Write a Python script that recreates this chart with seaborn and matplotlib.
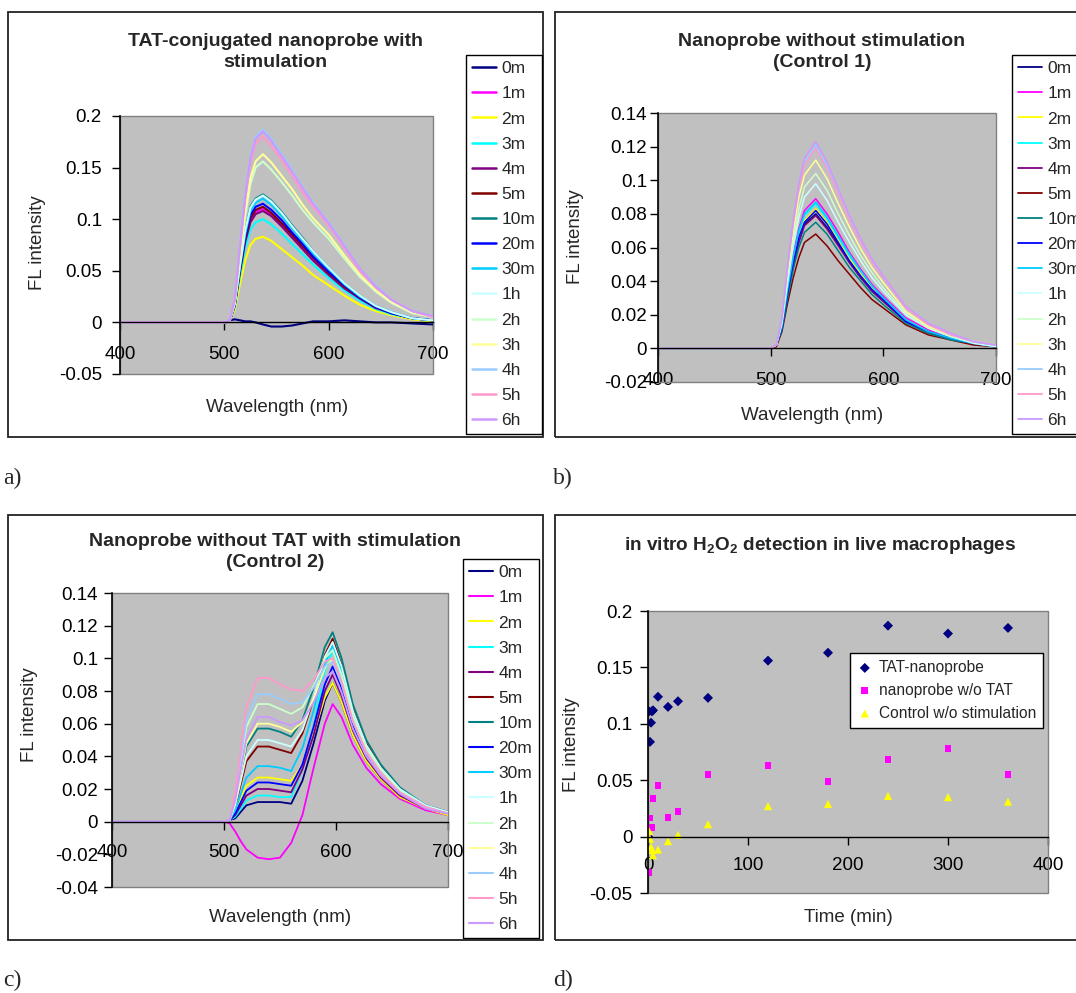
import matplotlib
matplotlib.use("Agg")
import numpy as np
import pandas as pd
import matplotlib.pyplot as plt
import seaborn as sns
from matplotlib.lines import Line2D
from matplotlib.patches import Rectangle

# ---------------- data ----------------
SERIES = ["0m", "1m", "2m", "3m", "4m", "5m", "10m", "20m", "30m",
          "1h", "2h", "3h", "4h", "5h", "6h"]
COLORS = ["#000080", "#FF00FF", "#FFFF00", "#00FFFF", "#800080", "#800000",
          "#008080", "#0000FF", "#00CCFF", "#CCFFFF", "#CCFFCC", "#FFFF99",
          "#99CCFF", "#FF99CC", "#CC99FF"]

# Panel a: TAT-conjugated nanoprobe with stimulation
WL_A = [400, 500, 505, 510, 515, 520, 525, 530, 537, 545, 555, 565, 575, 585, 600, 615, 630, 645, 660, 680, 700]
A_0M = [0, 0, 0.002, 0.003, 0.002, 0.001, 0.001, 0.000, -0.002, -0.004, -0.004, -0.003, -0.001, 0.001, 0.001, 0.002, 0.001, 0.000, 0.000, -0.001, -0.002]
A_1M = [0, 0, 0.001, 0.017, 0.050, 0.079, 0.099, 0.107, 0.110, 0.105, 0.095, 0.084, 0.073, 0.062, 0.047, 0.034, 0.023, 0.014, 0.009, 0.004, 0.002]
A_2M = [0, 0, 0.001, 0.012, 0.037, 0.060, 0.075, 0.081, 0.083, 0.079, 0.071, 0.063, 0.055, 0.046, 0.036, 0.026, 0.017, 0.011, 0.007, 0.003, 0.001]
A_3M = [0, 0, 0.001, 0.015, 0.045, 0.072, 0.090, 0.097, 0.100, 0.095, 0.086, 0.076, 0.066, 0.056, 0.043, 0.031, 0.021, 0.013, 0.008, 0.004, 0.002]
A_4M = [0, 0, 0.001, 0.016, 0.049, 0.078, 0.097, 0.105, 0.108, 0.103, 0.093, 0.082, 0.071, 0.060, 0.046, 0.033, 0.023, 0.014, 0.009, 0.004, 0.002]
A_5M = [0, 0, 0.001, 0.017, 0.050, 0.081, 0.101, 0.109, 0.112, 0.106, 0.096, 0.085, 0.074, 0.063, 0.048, 0.035, 0.024, 0.015, 0.009, 0.004, 0.002]
A_10M = [0, 0, 0.001, 0.019, 0.056, 0.089, 0.112, 0.120, 0.124, 0.118, 0.107, 0.094, 0.082, 0.069, 0.053, 0.038, 0.026, 0.016, 0.010, 0.004, 0.002]
A_20M = [0, 0, 0.001, 0.017, 0.052, 0.083, 0.104, 0.112, 0.115, 0.109, 0.099, 0.087, 0.076, 0.064, 0.049, 0.036, 0.024, 0.015, 0.009, 0.004, 0.002]
A_30M = [0, 0, 0.001, 0.018, 0.054, 0.086, 0.108, 0.116, 0.120, 0.114, 0.103, 0.091, 0.079, 0.067, 0.052, 0.037, 0.025, 0.016, 0.010, 0.004, 0.002]
A_1H = [0, 0, 0.001, 0.018, 0.055, 0.089, 0.111, 0.119, 0.123, 0.117, 0.106, 0.093, 0.081, 0.069, 0.053, 0.038, 0.026, 0.016, 0.010, 0.004, 0.002]
A_2H = [0, 0, 0.002, 0.019, 0.062, 0.103, 0.134, 0.150, 0.156, 0.148, 0.136, 0.123, 0.109, 0.097, 0.081, 0.062, 0.044, 0.030, 0.019, 0.009, 0.005]
A_3H = [0, 0, 0.002, 0.020, 0.065, 0.108, 0.140, 0.156, 0.163, 0.155, 0.142, 0.129, 0.114, 0.101, 0.085, 0.065, 0.046, 0.031, 0.020, 0.010, 0.005]
A_4H = [0, 0, 0.002, 0.022, 0.075, 0.123, 0.161, 0.180, 0.187, 0.178, 0.163, 0.148, 0.131, 0.116, 0.097, 0.075, 0.052, 0.036, 0.022, 0.011, 0.006]
A_5H = [0, 0, 0.002, 0.022, 0.072, 0.119, 0.155, 0.173, 0.180, 0.171, 0.157, 0.142, 0.126, 0.112, 0.094, 0.072, 0.050, 0.034, 0.022, 0.011, 0.005]
A_6H = [0, 0, 0.002, 0.022, 0.074, 0.122, 0.159, 0.178, 0.185, 0.176, 0.161, 0.146, 0.130, 0.115, 0.096, 0.074, 0.052, 0.035, 0.022, 0.011, 0.006]

# Panel b: Nanoprobe without stimulation (Control 1)
WL_B = [400, 500, 505, 510, 515, 520, 525, 530, 540, 550, 560, 570, 580, 590, 600, 620, 640, 660, 680, 700]
B_0M = [0, 0, 0.002, 0.012, 0.032, 0.050, 0.064, 0.074, 0.080, 0.072, 0.062, 0.051, 0.042, 0.034, 0.028, 0.016, 0.010, 0.006, 0.003, 0.001]
B_1M = [0, 0, 0.002, 0.013, 0.036, 0.055, 0.071, 0.082, 0.089, 0.080, 0.069, 0.057, 0.047, 0.038, 0.031, 0.018, 0.011, 0.006, 0.003, 0.001]
B_2M = [0, 0, 0.002, 0.012, 0.033, 0.051, 0.066, 0.076, 0.083, 0.075, 0.064, 0.053, 0.044, 0.036, 0.029, 0.017, 0.010, 0.006, 0.003, 0.001]
B_3M = [0, 0, 0.002, 0.013, 0.034, 0.053, 0.069, 0.079, 0.086, 0.077, 0.066, 0.055, 0.046, 0.037, 0.030, 0.017, 0.010, 0.006, 0.003, 0.001]
B_4M = [0, 0, 0.002, 0.012, 0.032, 0.049, 0.063, 0.073, 0.079, 0.071, 0.061, 0.051, 0.042, 0.034, 0.028, 0.016, 0.009, 0.006, 0.003, 0.001]
B_5M = [0, 0, 0.001, 0.010, 0.027, 0.042, 0.054, 0.063, 0.068, 0.061, 0.052, 0.044, 0.036, 0.029, 0.024, 0.014, 0.008, 0.005, 0.002, 0.001]
B_10M = [0, 0, 0.002, 0.011, 0.030, 0.047, 0.060, 0.069, 0.075, 0.068, 0.058, 0.048, 0.040, 0.032, 0.026, 0.015, 0.009, 0.005, 0.003, 0.001]
B_20M = [0, 0, 0.002, 0.012, 0.033, 0.051, 0.066, 0.075, 0.082, 0.074, 0.063, 0.052, 0.043, 0.035, 0.029, 0.016, 0.010, 0.006, 0.003, 0.001]
B_30M = [0, 0, 0.002, 0.013, 0.035, 0.054, 0.070, 0.080, 0.087, 0.078, 0.067, 0.056, 0.046, 0.037, 0.030, 0.017, 0.010, 0.006, 0.003, 0.001]
B_1H = [0, 0, 0.002, 0.015, 0.039, 0.061, 0.078, 0.090, 0.098, 0.088, 0.075, 0.063, 0.052, 0.042, 0.034, 0.020, 0.012, 0.007, 0.003, 0.001]
B_2H = [0, 0, 0.002, 0.016, 0.042, 0.064, 0.083, 0.096, 0.104, 0.094, 0.080, 0.067, 0.055, 0.045, 0.036, 0.021, 0.012, 0.007, 0.004, 0.002]
B_3H = [0, 0, 0.002, 0.017, 0.045, 0.069, 0.090, 0.103, 0.112, 0.101, 0.086, 0.072, 0.059, 0.048, 0.039, 0.022, 0.013, 0.008, 0.004, 0.002]
B_4H = [0, 0, 0.002, 0.018, 0.048, 0.075, 0.097, 0.111, 0.121, 0.109, 0.093, 0.077, 0.064, 0.052, 0.042, 0.024, 0.015, 0.008, 0.004, 0.002]
B_5H = [0, 0, 0.002, 0.018, 0.048, 0.074, 0.095, 0.109, 0.119, 0.107, 0.092, 0.076, 0.063, 0.051, 0.042, 0.024, 0.014, 0.008, 0.004, 0.002]
B_6H = [0, 0, 0.002, 0.018, 0.049, 0.076, 0.098, 0.113, 0.123, 0.111, 0.095, 0.079, 0.065, 0.053, 0.043, 0.025, 0.015, 0.009, 0.004, 0.002]

# Panel c: Nanoprobe without TAT with stimulation (Control 2)
WL_C = [400, 500, 505, 510, 515, 520, 530, 540, 550, 560, 570, 580, 590, 597, 605, 615, 627, 640, 657, 680, 700]
C_0M = [0, 0, 0.001, 0.002, 0.006, 0.010, 0.012, 0.012, 0.012, 0.011, 0.025, 0.048, 0.074, 0.085, 0.073, 0.053, 0.037, 0.026, 0.015, 0.008, 0.004]
C_1M = [0, 0, -0.001, -0.006, -0.012, -0.017, -0.022, -0.023, -0.022, -0.013, 0.004, 0.033, 0.060, 0.072, 0.064, 0.047, 0.033, 0.023, 0.014, 0.007, 0.004]
C_2M = [0, 0, 0.001, 0.005, 0.014, 0.022, 0.027, 0.027, 0.026, 0.025, 0.035, 0.054, 0.076, 0.085, 0.073, 0.053, 0.037, 0.026, 0.015, 0.008, 0.004]
C_3M = [0, 0, 0.001, 0.003, 0.008, 0.013, 0.016, 0.016, 0.015, 0.015, 0.032, 0.059, 0.092, 0.105, 0.090, 0.065, 0.045, 0.032, 0.019, 0.009, 0.005]
C_4M = [0, 0, 0.001, 0.004, 0.010, 0.016, 0.020, 0.020, 0.019, 0.018, 0.032, 0.053, 0.080, 0.090, 0.077, 0.056, 0.039, 0.027, 0.016, 0.008, 0.005]
C_5M = [0, 0, 0.001, 0.009, 0.023, 0.037, 0.046, 0.046, 0.044, 0.042, 0.054, 0.075, 0.102, 0.112, 0.096, 0.069, 0.048, 0.034, 0.020, 0.010, 0.006]
C_10M = [0, 0, 0.001, 0.011, 0.029, 0.046, 0.057, 0.057, 0.055, 0.052, 0.062, 0.082, 0.107, 0.116, 0.100, 0.072, 0.050, 0.035, 0.021, 0.010, 0.006]
C_20M = [0, 0, 0.001, 0.005, 0.012, 0.019, 0.024, 0.024, 0.023, 0.022, 0.035, 0.058, 0.084, 0.095, 0.082, 0.059, 0.041, 0.029, 0.017, 0.009, 0.005]
C_30M = [0, 0, 0.001, 0.007, 0.017, 0.027, 0.034, 0.034, 0.033, 0.031, 0.045, 0.068, 0.097, 0.108, 0.093, 0.067, 0.046, 0.032, 0.019, 0.010, 0.005]
C_1H = [0, 0, 0.001, 0.010, 0.025, 0.040, 0.050, 0.050, 0.048, 0.046, 0.056, 0.076, 0.101, 0.110, 0.095, 0.068, 0.047, 0.033, 0.020, 0.010, 0.006]
C_2H = [0, 0, 0.001, 0.014, 0.036, 0.058, 0.072, 0.072, 0.069, 0.066, 0.070, 0.083, 0.100, 0.105, 0.090, 0.065, 0.045, 0.032, 0.019, 0.009, 0.005]
C_3H = [0, 0, 0.001, 0.012, 0.030, 0.048, 0.060, 0.060, 0.058, 0.055, 0.061, 0.075, 0.094, 0.100, 0.086, 0.062, 0.043, 0.030, 0.018, 0.009, 0.005]
C_4H = [0, 0, 0.001, 0.016, 0.039, 0.062, 0.078, 0.078, 0.075, 0.072, 0.073, 0.082, 0.095, 0.098, 0.084, 0.061, 0.042, 0.029, 0.018, 0.009, 0.005]
C_5H = [0, 0, 0.001, 0.018, 0.044, 0.070, 0.088, 0.088, 0.084, 0.081, 0.080, 0.087, 0.098, 0.100, 0.086, 0.062, 0.043, 0.030, 0.018, 0.009, 0.005]
C_6H = [0, 0, 0.001, 0.013, 0.032, 0.051, 0.064, 0.064, 0.061, 0.059, 0.062, 0.073, 0.088, 0.092, 0.079, 0.057, 0.040, 0.028, 0.017, 0.008, 0.005]

# Panel d: in vitro H2O2 detection
TIME_MIN = [0, 1, 2, 3, 4, 5, 10, 20, 30, 60, 120, 180, 240, 300, 360]
TAT_NANOPROBE = [0.0, 0.111, 0.084, 0.101, 0.111, 0.112, 0.124, 0.115, 0.120, 0.123, 0.156, 0.163, 0.187, 0.180, 0.185]
NANOPROBE_NO_TAT = [0.001, -0.032, 0.0165, 0.0077, 0.008, 0.034, 0.045, 0.017, 0.022, 0.055, 0.063, 0.049, 0.068, 0.078, 0.055]
CONTROL_NO_STIM = [0.0, 0.005, -0.002, -0.009, -0.012, -0.0165, -0.0115, -0.004, 0.0015, 0.011, 0.027, 0.029, 0.036, 0.035, 0.031]
D_LABELS = ["TAT-nanoprobe", "nanoprobe w/o TAT", "Control w/o stimulation"]

# Tick labels
WL_TICKS = [400, 500, 600, 700]
WL_TICKLABELS = ["400", "500", "600", "700"]
A_YTICKS = [-0.05, 0, 0.05, 0.1, 0.15, 0.2]
A_YTICKLABELS = ["-0.05", "0", "0.05", "0.1", "0.15", "0.2"]
B_YTICKS = [-0.02, 0, 0.02, 0.04, 0.06, 0.08, 0.1, 0.12, 0.14]
B_YTICKLABELS = ["-0.02", "0", "0.02", "0.04", "0.06", "0.08", "0.1", "0.12", "0.14"]
C_YTICKS = [-0.04, -0.02, 0, 0.02, 0.04, 0.06, 0.08, 0.1, 0.12, 0.14]
C_YTICKLABELS = ["-0.04", "-0.02", "0", "0.02", "0.04", "0.06", "0.08", "0.1", "0.12", "0.14"]
D_XTICKS = [0, 100, 200, 300, 400]
D_XTICKLABELS = ["0", "100", "200", "300", "400"]
D_YTICKS = [-0.05, 0, 0.05, 0.1, 0.15, 0.2]
D_YTICKLABELS = ["-0.05", "0", "0.05", "0.1", "0.15", "0.2"]

# ---------------- style ----------------
sns.set_theme(style="white")
plt.rcParams['font.family'] = ['Liberation Sans', 'DejaVu Sans']
plt.rcParams['mathtext.fontset'] = 'custom'
plt.rcParams['mathtext.rm'] = 'Liberation Sans'
plt.rcParams['mathtext.bf'] = 'Liberation Sans:bold'

W, H = 1076, 993
fig = plt.figure(figsize=(W / 100, H / 100), dpi=100)
fig.patch.set_facecolor('white')


def px_axes(l, t, r, b):
    return fig.add_axes([l / W, 1 - b / H, (r - l) / W, (b - t) / H])


def fx(px):
    return px / W


def fy(py):
    return 1 - py / H


def panel_box(l, t, r, b):
    fig.add_artist(Rectangle((fx(l), fy(b)), (r - l) / W, (b - t) / H,
                             transform=fig.transFigure, fill=False,
                             ec='#222222', lw=1.3, zorder=0))


def style_axes(ax, xlim, ylim, xticks, xlabels, yticks, ylabels, xpad, ypad):
    ax.set_facecolor('#C0C0C0')
    ax.set_xlim(*xlim)
    ax.set_ylim(*ylim)
    ax.grid(False)
    for s in ['top', 'right']:
        ax.spines[s].set_visible(False)
    ax.spines['bottom'].set_position(('data', 0))
    ax.spines['bottom'].set_color('black')
    ax.spines['bottom'].set_linewidth(1.0)
    ax.spines['left'].set_color('black')
    ax.spines['left'].set_linewidth(1.2)
    ax.add_patch(Rectangle((0, 0), 1, 1, transform=ax.transAxes, fill=False,
                           ec='#808080', lw=1.0, zorder=0.6, clip_on=False))
    ax.set_xticks(xticks)
    ax.set_xticklabels(xlabels)
    ax.set_yticks(yticks)
    ax.set_yticklabels(ylabels)
    ax.tick_params(axis='both', which='both', direction='out', length=6,
                   width=1, colors='black', labelsize=13.5,
                   bottom=True, left=True, top=False, right=False)
    ax.tick_params(axis='x', pad=xpad)
    ax.tick_params(axis='y', pad=ypad)
    ax.set_xlabel('')
    ax.set_ylabel('')


def spectra_df(wl, series_list):
    rows = []
    for name, vals in zip(SERIES, series_list):
        for w, v in zip(wl, vals):
            rows.append((w, v, name))
    return pd.DataFrame(rows, columns=['wl', 'val', 'series'])


def draw_spectra(ax, wl, series_list, lw):
    df = spectra_df(wl, series_list)
    sns.lineplot(data=df, x='wl', y='val', hue='series', hue_order=SERIES,
                 palette=COLORS, estimator=None, sort=False, lw=lw,
                 legend=False, ax=ax)


def spectra_legend(left, top, lw):
    handles = [Line2D([0], [0], color=c, lw=lw) for c in COLORS]
    leg = fig.legend(handles, SERIES, loc='upper left',
                     bbox_to_anchor=(fx(left), fy(top)),
                     bbox_transform=fig.transFigure, frameon=True,
                     fancybox=False, edgecolor='black', facecolor='white',
                     framealpha=1, fontsize=12.5, handlelength=1.4,
                     handletextpad=0.3, labelspacing=0.575, borderpad=0.35,
                     borderaxespad=0)
    leg.get_frame().set_linewidth(1.0)
    return leg


SPEC_A = [A_0M, A_1M, A_2M, A_3M, A_4M, A_5M, A_10M, A_20M, A_30M, A_1H, A_2H, A_3H, A_4H, A_5H, A_6H]
SPEC_B = [B_0M, B_1M, B_2M, B_3M, B_4M, B_5M, B_10M, B_20M, B_30M, B_1H, B_2H, B_3H, B_4H, B_5H, B_6H]
SPEC_C = [C_0M, C_1M, C_2M, C_3M, C_4M, C_5M, C_10M, C_20M, C_30M, C_1H, C_2H, C_3H, C_4H, C_5H, C_6H]

label_fs = 13.5
title_fs = 14

# ---------------- panel a ----------------
panel_box(8, 12, 543, 437)
ax_a = px_axes(120, 116, 433, 374)
draw_spectra(ax_a, WL_A, SPEC_A, 1.5)
style_axes(ax_a, (400, 700), (-0.05, 0.2), WL_TICKS, WL_TICKLABELS,
           A_YTICKS, A_YTICKLABELS, 11, 7)
fig.text(fx(275), fy(52), "TAT-conjugated nanoprobe with\nstimulation",
         ha='center', va='center', fontsize=title_fs, weight='bold', linespacing=1.35)
fig.text(fx(37), fy(243), "FL intensity", rotation=90, ha='center', va='center', fontsize=label_fs)
fig.text(fx(277), fy(408), "Wavelength (nm)", ha='center', va='center', fontsize=label_fs)
spectra_legend(466, 55, 1.8)

# ---------------- panel b ----------------
panel_box(555, 12, 1100, 437)
ax_b = px_axes(658, 113, 996, 382)
draw_spectra(ax_b, WL_B, SPEC_B, 1.1)
style_axes(ax_b, (400, 700), (-0.02, 0.14), WL_TICKS, WL_TICKLABELS,
           B_YTICKS, B_YTICKLABELS, 11, 2)
fig.text(fx(822), fy(52), "Nanoprobe without stimulation\n(Control 1)",
         ha='center', va='center', fontsize=title_fs, weight='bold', linespacing=1.35)
fig.text(fx(575), fy(237), "FL intensity", rotation=90, ha='center', va='center', fontsize=label_fs)
fig.text(fx(812), fy(415), "Wavelength (nm)", ha='center', va='center', fontsize=label_fs)
spectra_legend(1012, 55, 1.3)

# ---------------- panel c ----------------
panel_box(8, 515, 543, 940)
ax_c = px_axes(112, 593, 448, 887)
draw_spectra(ax_c, WL_C, SPEC_C, 1.3)
style_axes(ax_c, (400, 700), (-0.04, 0.14), WL_TICKS, WL_TICKLABELS,
           C_YTICKS, C_YTICKLABELS, 10, 4)
fig.text(fx(275), fy(552), "Nanoprobe without TAT with stimulation\n(Control 2)",
         ha='center', va='center', fontsize=title_fs, weight='bold', linespacing=1.35)
fig.text(fx(30), fy(715), "FL intensity", rotation=90, ha='center', va='center', fontsize=label_fs)
fig.text(fx(280), fy(918), "Wavelength (nm)", ha='center', va='center', fontsize=label_fs)
spectra_legend(463, 559, 1.5)

# ---------------- panel d ----------------
panel_box(555, 515, 1100, 940)
ax_d = px_axes(648, 611, 1048, 893)
sns.scatterplot(x=TIME_MIN, y=TAT_NANOPROBE, marker='D', color='#000080',
                s=26, edgecolor='none', linewidth=0, ax=ax_d, label=D_LABELS[0])
sns.scatterplot(x=TIME_MIN, y=NANOPROBE_NO_TAT, marker='s', color='#FF00FF',
                s=24, edgecolor='none', linewidth=0, ax=ax_d, label=D_LABELS[1])
sns.scatterplot(x=TIME_MIN, y=CONTROL_NO_STIM, marker='^', color='#FFFF00',
                s=34, edgecolor='none', linewidth=0, ax=ax_d, label=D_LABELS[2])
hd, ld = ax_d.get_legend_handles_labels()
if ax_d.get_legend() is not None:
    ax_d.get_legend().remove()
style_axes(ax_d, (0, 400), (-0.05, 0.2), D_XTICKS, D_XTICKLABELS,
           D_YTICKS, D_YTICKLABELS, 9, 5)
leg_d = fig.legend(hd, ld, loc='upper left', bbox_to_anchor=(fx(850), fy(653)),
                   bbox_transform=fig.transFigure, frameon=True, fancybox=False,
                   edgecolor='black', facecolor='white', framealpha=1,
                   fontsize=11.2, handlelength=1.0, handletextpad=0.4,
                   labelspacing=0.5, borderpad=0.45, borderaxespad=0,
                   markerscale=1.0)
leg_d.get_frame().set_linewidth(1.0)
fig.text(fx(820), fy(545), r"in vitro H$\mathbf{_2}$O$\mathbf{_2}$ detection in live macrophages",
         ha='center', va='center', fontsize=title_fs - 0.3, weight='bold')
fig.text(fx(572), fy(745), "FL intensity", rotation=90, ha='center', va='center', fontsize=label_fs)
fig.text(fx(848), fy(918), "Time (min)", ha='center', va='center', fontsize=label_fs)

# ---------------- panel letters ----------------
for txt, x, y in [("a)", 3, 478), ("b)", 553, 478), ("c)", 3, 980), ("d)", 553, 980)]:
    fig.text(fx(x), fy(y), txt, ha='left', va='center', fontsize=17,
             family=['Liberation Serif', 'DejaVu Serif'])

fig.savefig("out.png", dpi=100)
